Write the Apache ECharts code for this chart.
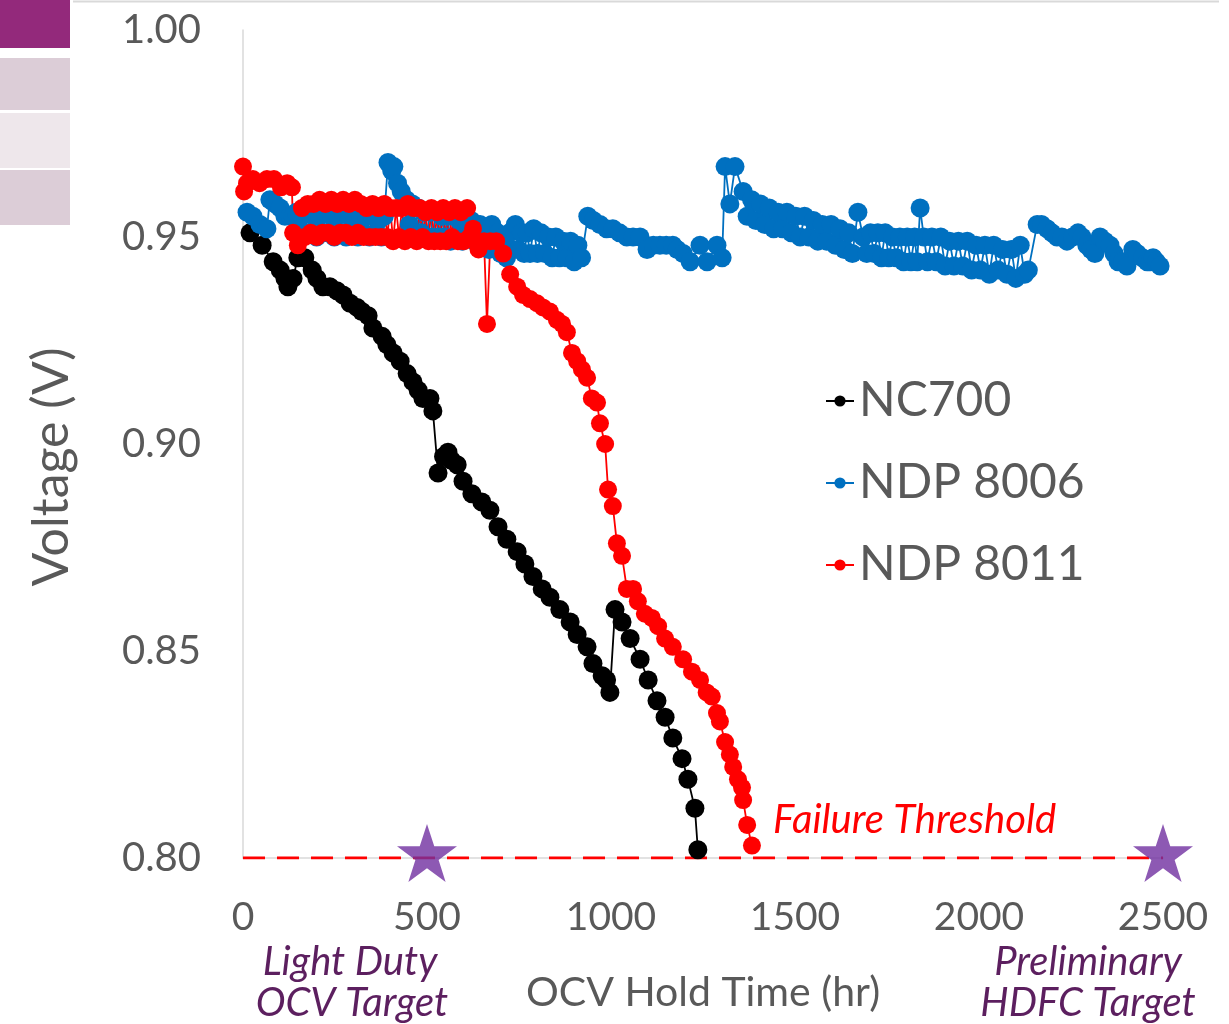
<!DOCTYPE html>
<html>
<head>
<meta charset="utf-8">
<script src="https://cdn.jsdelivr.net/npm/echarts@6/dist/echarts.min.js"></script>
<style>
html,body{margin:0;padding:0;background:#fff;}
#chart{width:1229px;height:1024px;}
</style>
</head>
<body>
<div id="chart"></div>
<script>
// ---- data (hours, volts) ----
const seriesNames = ['NC700', 'NDP 8006', 'NDP 8011'];
const xTicks = [0, 500, 1000, 1500, 2000, 2500];
const yTicks = [0.80, 0.85, 0.90, 0.95, 1.00];

const nc700 = [
  [19,0.951],[52,0.948],[82,0.944],[101,0.942],[114,0.940],[122,0.938],[136,0.940],[149,0.945],
  [168,0.945],[188,0.942],[201,0.940],[217,0.938],[236,0.938],[255,0.937],[272,0.936],[291,0.934],
  [310,0.933],[323,0.932],[340,0.931],[353,0.928],[378,0.926],[391,0.924],[408,0.922],[427,0.920],
  [446,0.917],[462,0.915],[476,0.913],[489,0.911],[508,0.911],[516,0.908],[530,0.893],[545,0.897],
  [557,0.898],[567,0.896],[582,0.895],[598,0.891],[622,0.888],[649,0.886],[671,0.884],[693,0.880],
  [717,0.877],[745,0.874],[766,0.871],[788,0.868],[813,0.865],[834,0.863],[861,0.860],[889,0.857],
  [908,0.854],[935,0.851],[951,0.847],[976,0.844],[988,0.843],[997,0.840],[1011,0.860],[1030,0.857],
  [1052,0.853],[1079,0.848],[1101,0.843],[1125,0.838],[1147,0.834],[1168,0.829],[1193,0.824],
  [1209,0.819],[1228,0.812],[1236,0.802]
];

const ndp8006 = [
  [11,0.956],[27,0.955],[46,0.953],[65,0.952],[73,0.959],[87,0.958],[101,0.957],[114,0.955],
  [128,0.955],[136,0.955],
  [145,0.956],[152,0.951],[160,0.955],[168,0.951],[176,0.956],[184,0.951],[192,0.955],[200,0.950],
  [208,0.955],[216,0.951],[224,0.956],[232,0.951],[240,0.955],[248,0.950],[256,0.955],[264,0.951],
  [272,0.956],[280,0.950],[288,0.955],[296,0.951],[304,0.955],[312,0.950],[320,0.955],[328,0.951],
  [336,0.955],[344,0.950],[352,0.955],[360,0.951],[368,0.954],[376,0.950],[384,0.955],
  [394,0.968],[404,0.966],[410,0.967],[420,0.963],[430,0.961],[444,0.959],
  [452,0.953],[460,0.958],[468,0.951],[476,0.957],[484,0.951],[492,0.956],[500,0.950],[508,0.956],
  [516,0.950],[524,0.956],[532,0.950],[540,0.955],[548,0.950],[556,0.955],[564,0.949],[572,0.955],
  [580,0.950],[588,0.954],[596,0.949],[604,0.954],[612,0.950],[620,0.954],[628,0.949],[636,0.953],
  [644,0.953],[652,0.948],[660,0.952],[668,0.947],[676,0.953],[684,0.948],[692,0.951],[700,0.946],
  [708,0.950],[716,0.945],[724,0.951],[732,0.947],[740,0.953],[748,0.947],[756,0.951],[764,0.946],
  [772,0.951],[780,0.946],[790,0.952],[800,0.946],[810,0.951],[820,0.946],[830,0.950],[840,0.945],
  [850,0.950],[860,0.945],[870,0.949],[880,0.945],[890,0.949],[900,0.944],[910,0.948],[920,0.945],
  [937,0.955],[952,0.954],[970,0.953],[988,0.952],[1005,0.952],[1023,0.951],[1043,0.950],[1060,0.950],
  [1079,0.950],[1098,0.947],[1115,0.948],[1133,0.948],[1150,0.948],[1168,0.948],[1180,0.947],
  [1196,0.946],[1215,0.944],[1242,0.948],[1261,0.944],[1288,0.948],[1302,0.945],
  [1310,0.967],[1323,0.958],[1337,0.967],[1359,0.961],
  [1370,0.955],[1382,0.959],[1394,0.954],[1406,0.958],[1418,0.953],[1430,0.957],[1442,0.952],
  [1454,0.956],[1466,0.952],[1478,0.956],[1490,0.951],[1502,0.955],[1514,0.950],[1526,0.955],
  [1538,0.950],[1550,0.954],[1562,0.949],[1574,0.953],[1586,0.949],[1598,0.953],[1610,0.948],
  [1622,0.952],[1634,0.947],[1646,0.951],[1656,0.946],
  [1671,0.956],[1685,0.950],
  [1695,0.946],[1705,0.951],[1715,0.946],[1725,0.951],[1735,0.945],[1745,0.951],[1755,0.945],
  [1765,0.950],[1775,0.945],[1785,0.950],[1795,0.944],[1805,0.950],[1815,0.944],[1825,0.950],
  [1832,0.944],
  [1840,0.957],
  [1850,0.950],[1860,0.944],[1872,0.950],[1884,0.944],[1896,0.950],[1908,0.943],[1920,0.949],
  [1932,0.943],[1944,0.949],[1956,0.943],[1968,0.949],[1980,0.942],[1992,0.948],[2004,0.942],
  [2016,0.948],[2028,0.941],[2040,0.948],[2052,0.942],[2064,0.947],[2076,0.941],[2088,0.947],
  [2100,0.940],[2112,0.948],[2124,0.941],[2134,0.942],
  [2158,0.953],[2170,0.953],[2185,0.952],[2198,0.951],[2212,0.950],[2225,0.950],[2239,0.949],
  [2254,0.950],[2269,0.951],[2280,0.950],[2293,0.948],[2304,0.947],[2315,0.946],[2329,0.950],
  [2342,0.949],[2356,0.948],[2367,0.946],[2378,0.944],[2390,0.944],[2402,0.943],[2418,0.947],
  [2430,0.946],[2444,0.945],[2457,0.944],[2465,0.944],[2473,0.945],[2482,0.944],[2492,0.943]
];

const ndp8011 = [
  [0,0.967],[3,0.961],[11,0.963],[27,0.964],[45,0.963],[65,0.964],[84,0.964],[103,0.962],
  [120,0.963],[133,0.962],[136,0.951],[149,0.948],
  [160,0.957],[168,0.950],[176,0.958],[184,0.951],[192,0.958],[200,0.950],[208,0.959],[216,0.951],
  [224,0.958],[232,0.951],[240,0.959],[248,0.950],[256,0.958],[264,0.951],[272,0.959],[280,0.951],
  [288,0.958],[296,0.950],[304,0.959],[312,0.951],[320,0.958],[328,0.950],[336,0.957],[344,0.950],
  [352,0.958],[360,0.950],[368,0.957],[376,0.950],[384,0.958],[392,0.950],[400,0.957],[408,0.949],
  [416,0.957],[424,0.950],[432,0.957],[440,0.949],[448,0.958],[456,0.950],[464,0.957],[472,0.949],
  [480,0.957],[488,0.950],[496,0.956],[504,0.949],[512,0.957],[520,0.949],[528,0.956],[536,0.949],
  [544,0.957],[552,0.949],[560,0.956],[568,0.950],[576,0.957],[584,0.949],[592,0.956],[600,0.949],
  [609,0.957],[616,0.950],[625,0.952],[640,0.947],[655,0.949],[663,0.929],[672,0.949],[688,0.949],
  [707,0.946],[726,0.941],[745,0.938],[761,0.936],[780,0.935],[799,0.934],[815,0.933],[834,0.932],
  [853,0.930],[867,0.929],[880,0.927],[894,0.922],[908,0.920],[921,0.918],[935,0.916],[948,0.911],
  [962,0.910],[970,0.905],[984,0.900],[992,0.889],[1005,0.885],[1016,0.876],[1030,0.873],
  [1043,0.865],[1060,0.865],[1073,0.862],[1092,0.859],[1111,0.858],[1128,0.856],[1147,0.853],
  [1168,0.851],[1196,0.848],[1220,0.845],[1242,0.843],[1260,0.840],[1274,0.839],[1288,0.835],
  [1296,0.833],[1310,0.828],[1323,0.825],[1332,0.822],[1345,0.819],[1356,0.817],[1359,0.814],
  [1370,0.808],[1383,0.803]
];

const thresholdLine = [[0,0.80],[2500,0.80]];
const targetStars = [[500,0.80],[2500,0.80]];
const thresholdLabel = 'Failure Threshold';
const yTitle = 'Voltage (V)';
const targetLabels = [['Light Duty','OCV Target'], ['Preliminary','HDFC Target']];

// ---- chart ----
const FONT = 'Lato, "Open Sans", sans-serif';
const GREY = '#595959';
const ANNO = '#5c1f5f';
const STAR = 'path://M50,0 L61.8,35.1 L98.8,35.1 L68.9,56.9 L80.3,91.9 L50,70.2 L19.7,91.9 L31.1,56.9 L1.2,35.1 L38.2,35.1 Z';

const chart = echarts.init(document.getElementById('chart'), null, {renderer: 'canvas'});

function dataSeries(name, data, color, size) {
  return {
    name: name, type: 'line', data: data,
    symbol: 'circle', symbolSize: size, showSymbol: true, showAllSymbol: true,
    itemStyle: {color: color}, lineStyle: {color: color, width: 1.8},
    clip: false, z: 3
  };
}

chart.setOption({
  animation: false,
  backgroundColor: '#ffffff',
  textStyle: {fontFamily: FONT},
  grid: {left: 243, right: 66, top: 30, bottom: 166, containLabel: false, outerBoundsMode: 'none'},
  xAxis: {
    type: 'value', min: xTicks[0], max: xTicks[xTicks.length-1], interval: 500,
    axisLine: {show: true, lineStyle: {color: '#d9d9d9', width: 1.5}},
    axisTick: {show: false}, splitLine: {show: false},
    axisLabel: {color: GREY, fontSize: 39, margin: 40, fontFamily: FONT,
      formatter: v => String(v)},
    name: 'OCV Hold Time (hr)', nameLocation: 'middle', nameGap: 114,
    nameTextStyle: {color: GREY, fontSize: 41, fontFamily: FONT}
  },
  yAxis: {
    type: 'value', min: yTicks[0], max: yTicks[yTicks.length-1], interval: 0.05,
    axisLine: {show: true, lineStyle: {color: '#d9d9d9', width: 1.5}},
    axisTick: {show: false}, splitLine: {show: false},
    axisLabel: {color: GREY, fontSize: 40, margin: 42, fontFamily: FONT,
      formatter: v => v.toFixed(2)}
  },
  legend: {
    data: seriesNames, orient: 'vertical', left: 820, top: 372, itemGap: 34,
    itemWidth: 28, itemHeight: 14,
    textStyle: {color: GREY, fontSize: 48, fontFamily: FONT}
  },
  series: [
    {
      name: 'threshold', type: 'line', data: thresholdLine, symbol: 'none',
      lineStyle: {color: '#ff0000', width: 3, type: [22, 12]}, z: 2, silent: true
    },
    dataSeries(seriesNames[0], nc700, '#000000', 19),
    dataSeries(seriesNames[1], ndp8006, '#0070c0', 19),
    dataSeries(seriesNames[2], ndp8011, '#ff0000', 18),
    {
      name: 'targets', type: 'scatter', data: targetStars, symbol: STAR,
      symbolSize: [60, 58], symbolOffset: [0, -5], itemStyle: {color: '#7030a0'},
      clip: false, z: 5
    }
  ],
  graphic: [
    {type: 'rect', shape: {x: 0, y: 0, width: 70, height: 48}, style: {fill: '#93297b'}},
    {type: 'rect', shape: {x: 0, y: 58, width: 70, height: 52}, style: {fill: '#dccdd7'}},
    {type: 'rect', shape: {x: 0, y: 113, width: 70, height: 55}, style: {fill: '#eee7eb'}},
    {type: 'rect', shape: {x: 0, y: 170, width: 70, height: 55}, style: {fill: '#dccdd7'}},
    {type: 'line', shape: {x1: 73, y1: 1.5, x2: 1219, y2: 1.5}, style: {stroke: '#d9d9d9', lineWidth: 2}},
    {type: 'text', x: 52, y: 467, rotation: Math.PI / 2, style: {text: yTitle, fill: GREY,
      font: '50px ' + FONT, align: 'center', verticalAlign: 'middle'}},
    {type: 'text', left: 773, top: 800, style: {text: thresholdLabel, fill: '#ff0000',
      font: 'italic 40px ' + FONT}},
    {type: 'text', x: 350, y: 962, style: {text: targetLabels[0][0], fill: ANNO,
      font: 'italic 40px ' + FONT, align: 'center', verticalAlign: 'middle'}},
    {type: 'text', x: 352, y: 1003, style: {text: targetLabels[0][1], fill: ANNO,
      font: 'italic 40px ' + FONT, align: 'center', verticalAlign: 'middle'}},
    {type: 'text', x: 1088, y: 962, style: {text: targetLabels[1][0], fill: ANNO,
      font: 'italic 40px ' + FONT, align: 'center', verticalAlign: 'middle'}},
    {type: 'text', x: 1088, y: 1003, style: {text: targetLabels[1][1], fill: ANNO,
      font: 'italic 40px ' + FONT, align: 'center', verticalAlign: 'middle'}}
  ]
});
</script>
</body>
</html>
